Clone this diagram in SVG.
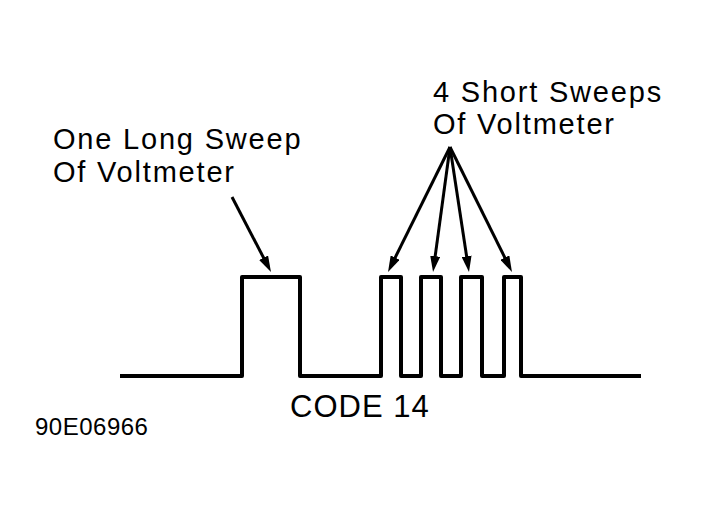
<svg xmlns="http://www.w3.org/2000/svg" width="706" height="513" viewBox="0 0 706 513">
<style>
.lbl{font-family:"Liberation Sans",Arial,sans-serif;font-size:29px;letter-spacing:1.8px;fill:#000}
.code{font-family:"Liberation Sans",Arial,sans-serif;font-size:31px;letter-spacing:1px;fill:#000}
.small{font-family:"Liberation Sans",Arial,sans-serif;font-size:24px;letter-spacing:0.5px;fill:#000}
.wave{fill:none;stroke:#000;stroke-width:4;stroke-linejoin:round;stroke-linecap:butt}
.arr{fill:none;stroke:#000;stroke-width:3;marker-end:url(#ah)}
</style>
<defs>
<marker id="ah" markerUnits="userSpaceOnUse" markerWidth="16" markerHeight="10" refX="8" refY="5" orient="auto" viewBox="0 0 16 10">
<path d="M0,0 L16,5 L0,10 z" fill="#000"/>
</marker>
</defs>
<rect width="706" height="513" fill="#fff"/>
<g id="waveform">
<path class="wave" d="M120,376 H242 V277 H300 V376 H381 V277 H401 V376 H421 V277 H441 V376 H461 V277 H482 V376 H504 V277 H521 V376 H641"/>
</g>
<g id="label-long">
<text class="lbl" x="53" y="149">One Long Sweep</text>
<text class="lbl" x="53" y="181.6">Of Voltmeter</text>
</g>
<g id="label-short">
<text class="lbl" x="433" y="101.5">4 Short Sweeps</text>
<text class="lbl" x="433" y="134.1">Of Voltmeter</text>
</g>
<g id="label-code">
<text class="code" x="290" y="417">CODE 14</text>
</g>
<g id="label-id">
<text class="small" x="35" y="435">90E06966</text>
</g>
<g id="connectors">
<line class="arr" x1="232" y1="197" x2="267.3" y2="264.9"/>
<line class="arr" x1="450" y1="147" x2="391.6" y2="264.8"/>
<line class="arr" x1="450" y1="147" x2="434.1" y2="264.1"/>
<line class="arr" x1="450" y1="147" x2="467.8" y2="264.1"/>
<line class="arr" x1="450" y1="147" x2="508.4" y2="264.8"/>
</g>
</svg>
